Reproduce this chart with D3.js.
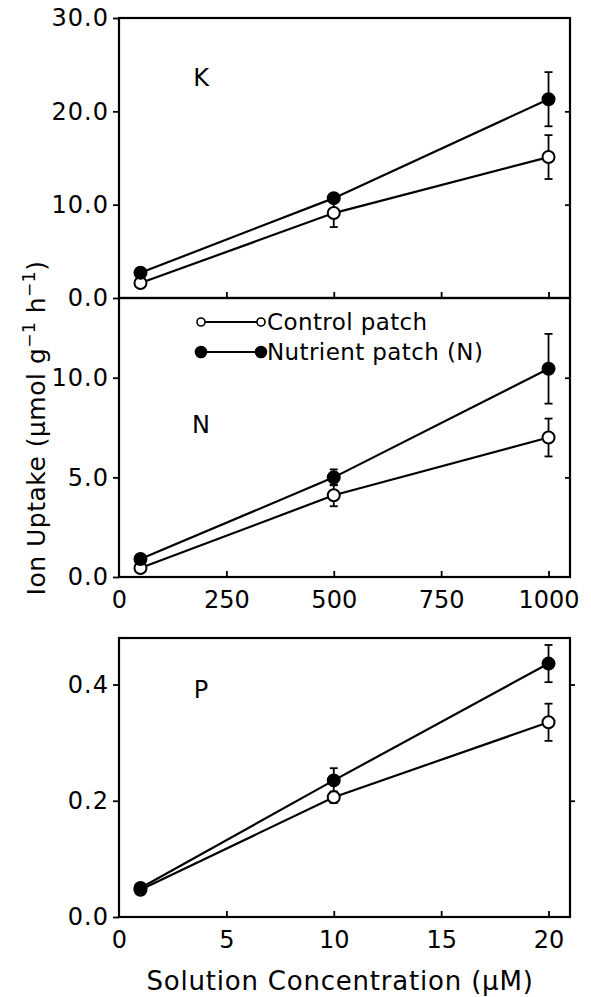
<!DOCTYPE html>
<html>
<head>
<meta charset="utf-8">
<script src="https://cdn.jsdelivr.net/npm/d3@7"></script>
<style>
  body { margin: 0; background: #fff; }
  svg { font-family: "DejaVu Sans", sans-serif; }
</style>
</head>
<body>
<svg id="chart" width="591" height="997"></svg>
<script>
// concentrations (uM)
var concKN = [50, 500, 1000];
var concP = [1, 10, 20];

// K uptake
var kControl = [1.6, 9.1, 15.1];
var kControlErr = [0.2, 1.5, 2.35];
var kNutrient = [2.7, 10.7, 21.3];
var kNutrientErr = [0.3, 0.4, 2.9];

// N uptake
var nControl = [0.45, 4.1, 7.0];
var nControlErr = [0.1, 0.55, 0.95];
var nNutrient = [0.9, 5.0, 10.45];
var nNutrientErr = [0.1, 0.4, 1.75];

// P uptake
var pControl = [0.047, 0.206, 0.335];
var pControlErr = [0.004, 0.01, 0.032];
var pNutrient = [0.05, 0.235, 0.436];
var pNutrientErr = [0.004, 0.021, 0.032];

var yTicksK = [0, 10, 20, 30];
var yTicksN = [0, 5, 10];
var yTicksP = [0, 0.2, 0.4];
var xTicksKN = [0, 250, 500, 750, 1000];
var xTicksP = [0, 5, 10, 15, 20];

var svg = d3.select("#chart");
var left = 119, right = 570;

var panels = [
  { label: "K", top: 18, bottom: 298, ymax: 30, yticks: yTicksK, conc: concKN, xmax: 1050, xticks: xTicksKN,
    showX: false, rightOut: false, labelY: 86,
    control: kControl, controlErr: kControlErr, nutrient: kNutrient, nutrientErr: kNutrientErr },
  { label: "N", top: 298, bottom: 577, ymax: 14, yticks: yTicksN, conc: concKN, xmax: 1050, xticks: xTicksKN,
    showX: true, rightOut: false, labelY: 433,
    control: nControl, controlErr: nControlErr, nutrient: nNutrient, nutrientErr: nNutrientErr },
  { label: "P", top: 638, bottom: 917, ymax: 0.48, yticks: yTicksP, conc: concP, xmax: 21, xticks: xTicksP,
    showX: true, rightOut: true, labelY: 698,
    control: pControl, controlErr: pControlErr, nutrient: pNutrient, nutrientErr: pNutrientErr }
];

panels.forEach(function(p) {
  var x = d3.scaleLinear().domain([0, p.xmax]).range([left, right]);
  var y = d3.scaleLinear().domain([0, p.ymax]).range([p.bottom, p.top]);
  var g = svg.append("g");

  // left axis
  var ya = g.append("g")
    .attr("transform", "translate(" + left + ",0)")
    .call(d3.axisLeft(y).tickValues(p.yticks)
      .tickSize(6).tickPadding(4).tickFormat(d3.format(".1f")));
  ya.selectAll(".tick text").attr("letter-spacing", 1);

  // right axis ticks
  g.append("g")
    .attr("transform", "translate(" + right + ",0)")
    .call(d3.axisRight(y).tickValues(p.yticks.filter(function(d){ return d > 0 && d < p.ymax; }))
      .tickSize(p.rightOut ? 5 : -5).tickFormat(""));

  // bottom axis, ticks inside
  var xa = g.append("g")
    .attr("transform", "translate(0," + p.bottom + ")")
    .call(d3.axisBottom(x).tickValues(p.xticks).tickSize(-6).tickPadding(14)
      .tickFormat(p.showX ? d3.format("d") : ""));
  xa.selectAll(".tick").filter(function(d){ return d == 0; }).select("line").remove();

  g.selectAll(".domain").remove();
  g.selectAll(".tick line").attr("stroke-width", 1.8);
  g.selectAll(".tick text").attr("font-size", 24).attr("font-family", "DejaVu Sans").attr("fill", "#000");

  g.append("rect")
    .attr("x", left).attr("y", p.top)
    .attr("width", right - left).attr("height", p.bottom - p.top)
    .attr("fill", "none").attr("stroke", "#000").attr("stroke-width", 2.2);

  g.append("text")
    .attr("x", 201).attr("y", p.labelY)
    .attr("text-anchor", "middle").attr("font-size", 24)
    .text(p.label);

  var line = d3.line()
    .x(function(d, i){ return x(p.conc[i]); })
    .y(function(d){ return y(d); });

  [["control", "controlErr"], ["nutrient", "nutrientErr"]].forEach(function(s) {
    var vals = p[s[0]], errs = p[s[1]];
    g.append("path").datum(vals)
      .attr("d", line)
      .attr("fill", "none").attr("stroke", "#000").attr("stroke-width", 2.2);

    var eb = g.append("g").selectAll("g").data(vals).enter().append("g");
    eb.append("line")
      .attr("x1", function(d, i){ return x(p.conc[i]); })
      .attr("x2", function(d, i){ return x(p.conc[i]); })
      .attr("y1", function(d, i){ return y(d - errs[i]); })
      .attr("y2", function(d, i){ return y(d + errs[i]); })
      .attr("stroke", "#000").attr("stroke-width", 1.8);
    [-1, 1].forEach(function(sign) {
      eb.append("line")
        .attr("x1", function(d, i){ return x(p.conc[i]) - 4; })
        .attr("x2", function(d, i){ return x(p.conc[i]) + 4; })
        .attr("y1", function(d, i){ return y(d + sign * errs[i]); })
        .attr("y2", function(d, i){ return y(d + sign * errs[i]); })
        .attr("stroke", "#000").attr("stroke-width", 1.8);
    });
  });

  ["control", "nutrient"].forEach(function(k) {
    g.append("g").selectAll("circle").data(p[k]).enter().append("circle")
      .attr("cx", function(d, i){ return x(p.conc[i]); })
      .attr("cy", function(d){ return y(d); })
      .attr("r", 6)
      .attr("fill", k == "control" ? "#fff" : "#000")
      .attr("stroke", "#000").attr("stroke-width", 2);
  });
});

// legend
var legend = svg.append("g");
var legendItems = [
  { name: "Control patch", fill: "#fff", r: 4, y: 322 },
  { name: "Nutrient patch (N)", fill: "#000", r: 5.5, y: 352 }
];
legendItems.forEach(function(l) {
  legend.append("line").attr("x1", 201).attr("x2", 261).attr("y1", l.y).attr("y2", l.y)
    .attr("stroke", "#000").attr("stroke-width", 1.8);
  [201, 261].forEach(function(cx) {
    legend.append("circle").attr("cx", cx).attr("cy", l.y).attr("r", l.r)
      .attr("fill", l.fill).attr("stroke", "#000").attr("stroke-width", 1.6);
  });
  legend.append("text").attr("x", 267).attr("y", l.y + 8)
    .attr("font-size", 23).attr("letter-spacing", 0.4).text(l.name);
});

// axis titles
var yl = svg.append("text")
  .attr("transform", "translate(45,428) rotate(-90)")
  .attr("text-anchor", "middle").attr("font-size", 25).attr("letter-spacing", 0.5);
yl.append("tspan").text("Ion Uptake (\u03bcmol g");
yl.append("tspan").attr("font-size", 17).attr("dy", -10).text("\u22121");
yl.append("tspan").attr("dy", 10).text(" h");
yl.append("tspan").attr("font-size", 17).attr("dy", -10).text("\u22121");
yl.append("tspan").attr("dy", 10).text(")");

svg.append("text")
  .attr("x", 340).attr("y", 990)
  .attr("text-anchor", "middle").attr("font-size", 26).attr("letter-spacing", 0.8)
  .text("Solution Concentration (\u03bcM)");
</script>
</body>
</html>
